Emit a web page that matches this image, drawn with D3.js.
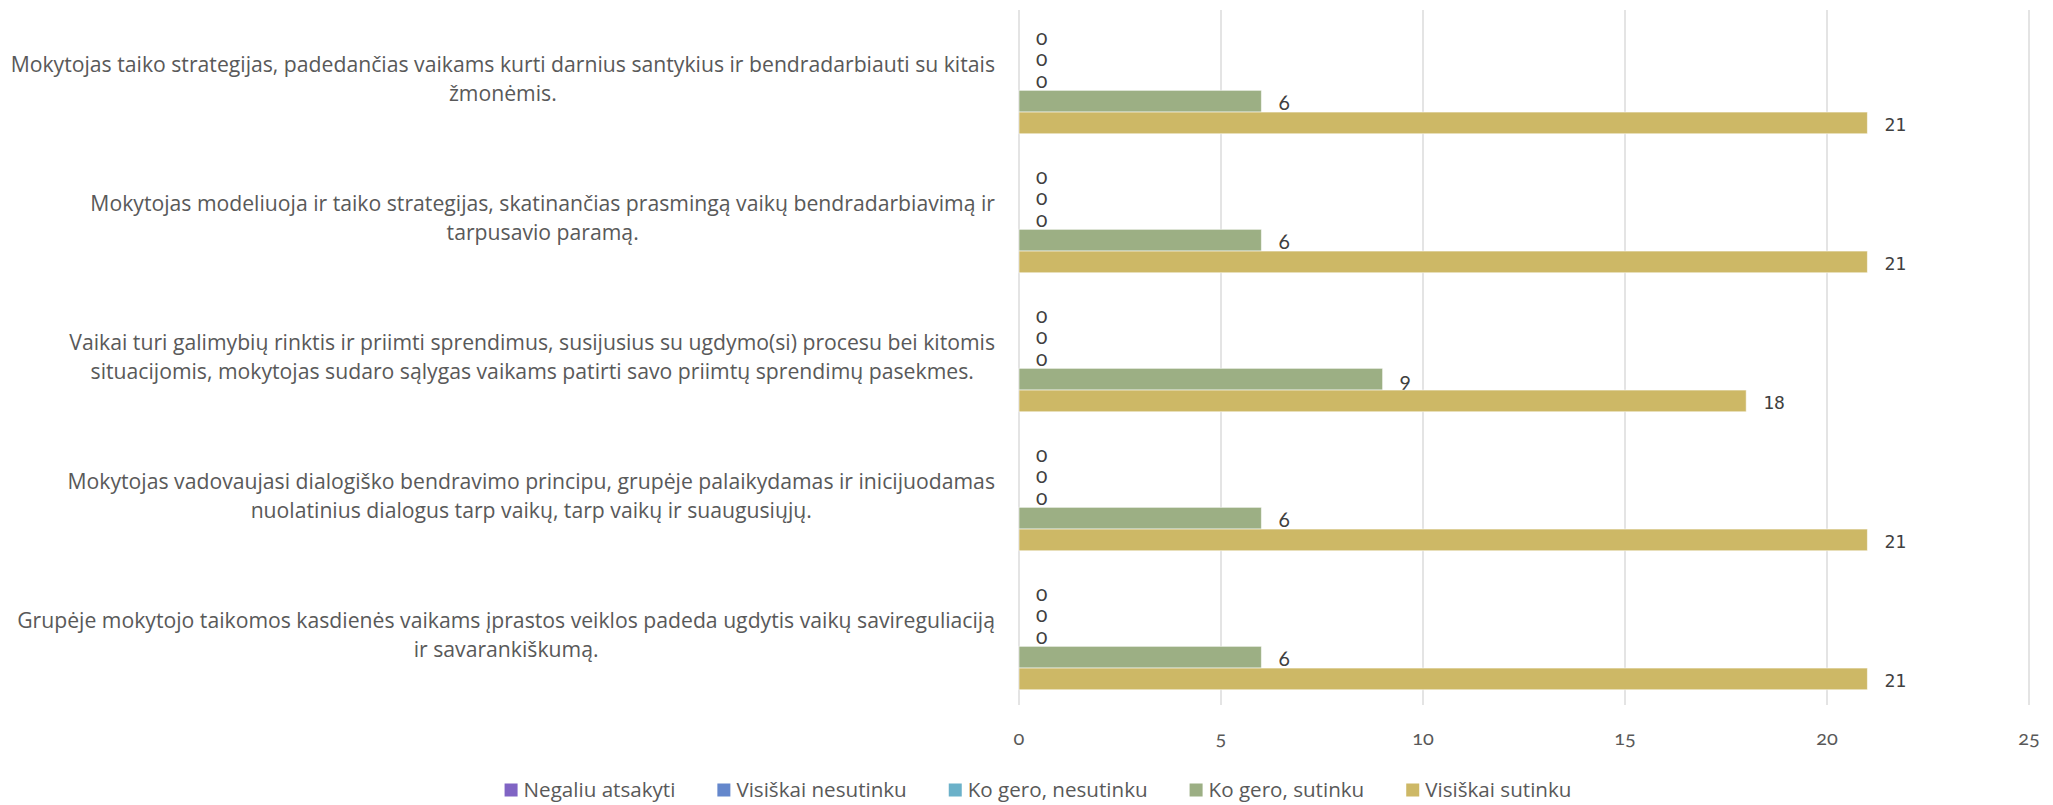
<!DOCTYPE html>
<html>
<head>
<meta charset="utf-8">
<script src="https://cdn.jsdelivr.net/npm/d3@7"></script>
<style>
  html, body { margin: 0; padding: 0; background: #fff; }
  svg { display: block; }
  .os { font-variant-numeric: oldstyle-nums; font-feature-settings: "onum" 1; }
</style>
</head>
<body>
<script>
// ---------------- data ----------------
const categories = [
  "Mokytojas taiko strategijas, padedančias vaikams kurti darnius santykius ir bendradarbiauti su kitais žmonėmis.",
  "Mokytojas modeliuoja ir taiko strategijas, skatinančias prasmingą vaikų bendradarbiavimą ir tarpusavio paramą.",
  "Vaikai turi galimybių rinktis ir priimti sprendimus, susijusius su ugdymo(si) procesu bei kitomis situacijomis, mokytojas sudaro sąlygas vaikams patirti savo priimtų sprendimų pasekmes.",
  "Mokytojas vadovaujasi dialogiško bendravimo principu, grupėje palaikydamas ir inicijuodamas nuolatinius dialogus tarp vaikų, tarp vaikų ir suaugusiųjų.",
  "Grupėje mokytojo taikomos kasdienės vaikams įprastos veiklos padeda ugdytis vaikų savireguliaciją ir savarankiškumą."
];
const categoryLines = [
  ["Mokytojas taiko strategijas, padedančias vaikams kurti darnius santykius ir bendradarbiauti su kitais", "žmonėmis."],
  ["Mokytojas modeliuoja ir taiko strategijas, skatinančias prasmingą vaikų bendradarbiavimą ir", "tarpusavio paramą."],
  ["Vaikai turi galimybių rinktis ir priimti sprendimus, susijusius su ugdymo(si) procesu bei kitomis", "situacijomis, mokytojas sudaro sąlygas vaikams patirti savo priimtų sprendimų pasekmes."],
  ["Mokytojas vadovaujasi dialogiško bendravimo principu, grupėje palaikydamas ir inicijuodamas", "nuolatinius dialogus tarp vaikų, tarp vaikų ir suaugusiųjų."],
  ["Grupėje mokytojo taikomos kasdienės vaikams įprastos veiklos padeda ugdytis vaikų savireguliaciją", "ir savarankiškumą."]
];
const seriesNames = ["Negaliu atsakyti", "Visiškai nesutinku", "Ko gero, nesutinku", "Ko gero, sutinku", "Visiškai sutinku"];
const negaliuAtsakyti   = [0, 0, 0, 0, 0];
const visiskaiNesutinku = [0, 0, 0, 0, 0];
const koGeroNesutinku   = [0, 0, 0, 0, 0];
const koGeroSutinku     = [6, 6, 9, 6, 6];
const visiskaiSutinku   = [21, 21, 18, 21, 21];
const xTicks = [0, 5, 10, 15, 20, 25];

// ---------------- styles ----------------
const seriesColors = ["#8064c4", "#6487cc", "#6bb1c9", "#9caf84", "#cdb866"];
const seriesValues = [negaliuAtsakyti, visiskaiNesutinku, koGeroNesutinku, koGeroSutinku, visiskaiSutinku];
const W = 2053, H = 805;
const NUMFONT = "Lato, 'Open Sans', sans-serif";
const TXTFONT = "'Open Sans', Lato, sans-serif";
const textColor = "#595959";
const labelColor = "#404040";

const svg = d3.select("body").append("svg").attr("width", W).attr("height", H);

const x = d3.scaleLinear().domain([0, 25]).range([1019, 2029]);
const y = d3.scaleBand().domain(d3.range(categories.length)).range([10, 705])
  .paddingInner(0.2194).paddingOuter(0.1097);
const ys = d3.scaleBand().domain(d3.range(seriesNames.length)).range([0, y.bandwidth()]);

// gridlines
svg.append("g").selectAll("line").data(xTicks).join("line")
  .attr("x1", d => x(d)).attr("x2", d => x(d))
  .attr("y1", 10).attr("y2", 705)
  .attr("stroke", "#d9d9d9").attr("stroke-width", 1.4);

// x tick labels
svg.append("g").selectAll("text").data(xTicks).join("text")
  .attr("class", "os")
  .attr("x", d => x(d)).attr("y", 745)
  .attr("text-anchor", "middle")
  .attr("font-family", NUMFONT).attr("font-size", 20)
  .attr("fill", textColor)
  .text(d => d);

// bars
const rows = [];
categories.forEach((c, ci) => {
  seriesValues.forEach((vals, si) => rows.push({ ci, si, v: vals[ci] }));
});
svg.append("g").selectAll("rect").data(rows.filter(r => r.v > 0)).join("rect")
  .attr("x", x(0))
  .attr("y", r => y(r.ci) + ys(r.si))
  .attr("width", r => x(r.v) - x(0))
  .attr("height", ys.bandwidth())
  .attr("fill", r => seriesColors[r.si])
  .attr("stroke", "#ffffff").attr("stroke-opacity", 0.55).attr("stroke-width", 1);

// value labels
svg.append("g").selectAll("text").data(rows).join("text")
  .attr("class", r => r.si === 4 ? null : "os")
  .attr("x", r => x(r.v) + 17)
  .attr("y", r => y(r.ci) + ys(r.si) + ys.bandwidth() / 2 + 8.5)
  .attr("font-family", r => r.si === 4 ? "'DejaVu Sans Mono', monospace" : NUMFONT)
  .attr("font-size", r => r.si === 4 ? 18 : 21)
  .attr("fill", labelColor)
  .text(r => r.v);

// category labels
const catG = svg.append("g");
categoryLines.forEach((lines, ci) => {
  const cy = y(ci) + y.bandwidth() / 2;
  const g = catG.append("g");
  const ts = g.selectAll("text").data(lines).join("text")
    .attr("y", (d, i) => cy + (i - (lines.length - 1) / 2) * 29)
    .attr("dy", "0.35em")
    .attr("text-anchor", "middle")
    .attr("font-family", TXTFONT).attr("font-size", 21.2)
    .attr("fill", textColor)
    .text(d => d);
  let maxW = 0;
  ts.each(function () { maxW = Math.max(maxW, this.getComputedTextLength()); });
  ts.attr("x", 995 - maxW / 2);
});

// legend
const legend = svg.append("g");
const items = legend.selectAll("g").data(seriesNames).join("g");
items.append("rect").attr("width", 13).attr("height", 13).attr("y", 783.5)
  .attr("fill", (d, i) => seriesColors[i]);
items.append("text").attr("x", 19).attr("y", 797)
  .attr("font-family", TXTFONT).attr("font-size", 20.6).attr("fill", textColor)
  .text(d => d);
let widths = [];
items.each(function () { widths.push(19 + d3.select(this).select("text").node().getComputedTextLength()); });
const gap = 42;
const total = d3.sum(widths) + gap * (widths.length - 1);
let cx = 1038 - total / 2;
items.each(function (d, i) {
  d3.select(this).attr("transform", `translate(${cx},0)`);
  cx += widths[i] + gap;
});
</script>
</body>
</html>
